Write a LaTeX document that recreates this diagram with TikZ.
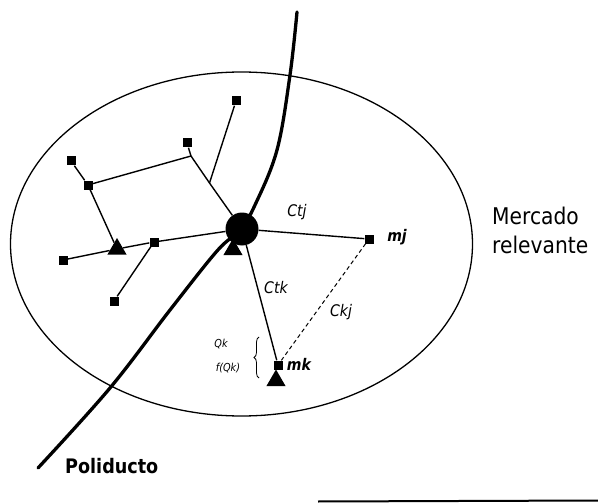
\documentclass[tikz,border=0pt]{standalone}
\usepackage{fontspec}
\setmainfont{DejaVu Sans}[FakeStretch=0.88]
\usetikzlibrary{shapes.geometric,decorations.pathreplacing}
\begin{document}
\begin{tikzpicture}[x=1pt,y=-1pt,
  sq/.style={fill=black,draw=none,inner sep=0pt,minimum size=9pt},
  tri/.style={regular polygon,regular polygon sides=3,fill=black,draw=none,inner sep=0pt,minimum size=22pt},
  link/.style={line width=1.4pt},
  pipe/.style={line width=3.3pt,line cap=round},
  lbl/.style={font=\itshape\fontsize{16}{16}\selectfont,inner sep=0pt},
  mlbl/.style={font=\bfseries\itshape\fontsize{16}{16}\selectfont,inner sep=0pt},
  small/.style={font=\itshape\fontsize{11}{11}\selectfont,inner sep=0pt}]
\useasboundingbox (0,0) rectangle (598,503);
% market ellipse
\draw[line width=1.3pt] (241.5,244) ellipse [x radius=231, y radius=172];
% pipeline
\draw[pipe] plot[smooth,tension=0.6] coordinates {(297,12) (290,75) (277,150) (255,205) (240,230) (217,251) (170,310) (110,388) (38,468)};
% nodes
\node[sq] (a1) at (236,101) {};
\node[sq] (a2) at (187,143) {};
\node[sq] (a3) at (71,161) {};
\node[sq] (a4) at (88,185) {};
\node[sq] (a5) at (154,242) {};
\node[sq] (a6) at (63,260) {};
\node[sq] (a7) at (114,301) {};
\node[sq] (mj) at (369,239) {};
\node[tri] (t1) at (117,249) {};
\node[tri] (t2) at (233,249.5) {};
\node[tri] (t3) at (276,380.5) {};
\node[sq] (mk) at (278,365) {};
\node[circle,fill=black,draw=none,inner sep=0pt,minimum size=33pt] (hub) at (242,229) {};
\coordinate (j1) at (191,156);
\coordinate (j2) at (209.5,183);
% connectors
\draw[link] (a2) -- (j1) -- (j2) -- (hub);
\draw[link] (a4) -- (j1);
\draw[link] (a1) -- (j2);
\draw[link] (a3) -- (a4) -- (t1);
\draw[link] (a6) -- (t1) -- (a5) -- (hub);
\draw[link] (a7) -- (a5);
\draw[link] (hub) -- (mj);
\draw[link] (hub) -- (mk);
\draw[line width=1pt,dash pattern=on 4pt off 3pt] (mj) -- (mk);
% brace
\draw[line width=0.8pt,decorate,decoration={brace,amplitude=5pt}] (259,378) -- (259,337);
% labels
\node[lbl] (ctj) at (297,212) {Ctj};
\node[mlbl] (lmj) at (397,237) {mj};
\node[lbl] (ctk) at (276,288) {Ctk};
\node[lbl] (ckj) at (341,312) {Ckj};
\node[mlbl] (lmk) at (299,364) {mk};
\node[small] (qk) at (221,344) {Qk};
\node[small] (fqk) at (228,368) {f(Qk)};
\node[anchor=north west,align=left,inner sep=0pt,font=\fontsize{23}{29}\selectfont] (merc) at (492,207) {Mercado\\relevante};
\node[anchor=base west,inner sep=0pt,font=\bfseries\fontsize{20}{20}\selectfont] (poli) at (65,473) {Poliducto};
% scan edge line at bottom
\coordinate (e1) at (318,501.5);
\coordinate (e2) at (598,500.5);
\draw[line width=2pt] (e1) -- (e2);
\end{tikzpicture}
\end{document}
